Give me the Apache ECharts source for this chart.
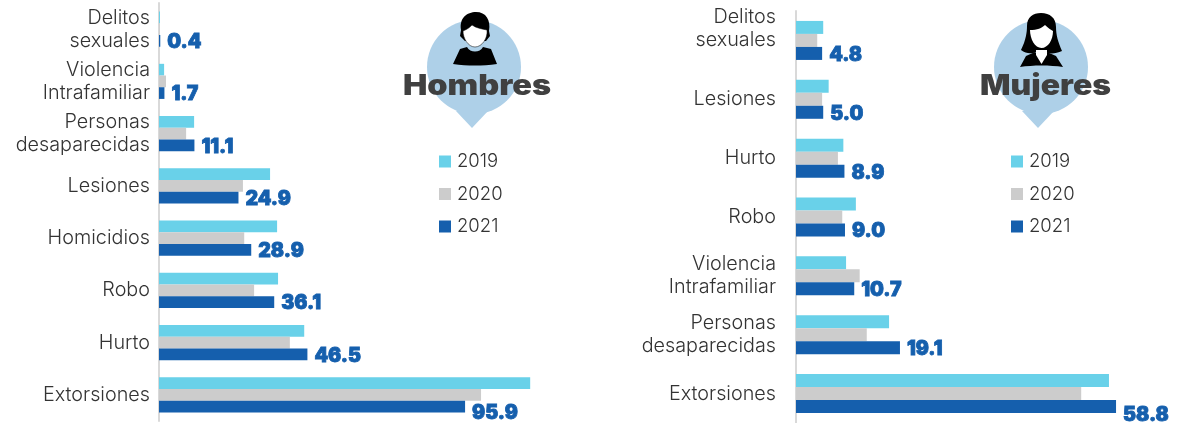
<!DOCTYPE html>
<html><head><meta charset="utf-8">
<script src="https://cdn.jsdelivr.net/npm/echarts@6/dist/echarts.min.js"></script>
<style>html,body{margin:0;padding:0;background:#fff}#c{width:1183px;height:423px}</style>
</head><body><div id="c"></div>
<script>
const years = ['2019','2020','2021'];
const catsH = ['Delitos\nsexuales','Violencia\nIntrafamiliar','Personas\ndesaparecidas','Lesiones','Homicidios','Robo','Hurto','Extorsiones'];
const h2019 = [0.3,1.6,11.0,34.8,37.0,37.3,45.5,116.3];
const h2020 = [0.2,2.2,8.5,26.3,26.7,29.8,41.0,100.9];
const h2021 = [0.4,1.7,11.1,24.9,28.9,36.1,46.5,95.9];
const catsM = ['Delitos\nsexuales','Lesiones','Hurto','Robo','Violencia\nIntrafamiliar','Personas\ndesaparecidas','Extorsiones'];
const m2019 = [5.0,6.0,8.7,11.0,9.2,17.1,57.5];
const m2020 = [3.9,4.8,7.7,8.5,11.7,13.0,52.4];
const m2021 = [4.8,5.0,8.9,9.0,10.7,19.1,58.8];
const colors = ['#69D1E9','#CCCCCC','#155FAD'];
const FONT = 'Inter, "Open Sans", sans-serif';

function lastOffset(vals, dx, dy){
  return vals.map((v,i)=> i===vals.length-1 ? {value:v,label:{offset:[dx,dy]}} : v);
}
function bars(vals, axis, bw, idx, ldx, ldy){
  const s = {name:years[idx],type:'bar',xAxisIndex:axis,yAxisIndex:axis,barWidth:bw,barGap:0,
    itemStyle:{color:colors[idx]},emphasis:{disabled:true},animation:false,
    data: idx===2 ? lastOffset(vals,ldx,ldy) : vals};
  if(idx===2) s.label={show:true,position:'right',distance:7,offset:[0,1.5],
    formatter:p=>Number(p.value).toFixed(1),
    fontFamily:FONT,fontWeight:900,fontSize:19.5,color:'#155FAD',
    textBorderColor:'#155FAD',textBorderWidth:0.8};
  return s;
}
function xA(gi,max){return {gridIndex:gi,type:'value',min:0,max:max,show:false};}
function yA(gi,cats,m,fmt){return {gridIndex:gi,type:'category',inverse:true,data:cats,
  axisLine:{show:true,onZero:false,lineStyle:{color:'#D9D9D9',width:2}},axisTick:{show:false},
  axisLabel:{margin:m,fontFamily:FONT,fontWeight:300,fontSize:19.8,lineHeight:23,color:'#333333',align:'right',formatter:fmt}};}
function legend(left){return {left:left,top:147,orient:'vertical',data:years,icon:'rect',itemWidth:12,itemHeight:12,
  itemGap:13.5,selectedMode:false,textStyle:{fontFamily:FONT,fontWeight:300,fontSize:18.5,color:'#333333',padding:[0,0,0,1]}};}
const BUB='#AED0E8';
function bubble(cx,cy,r,tx,ty){return [
  {type:'circle',shape:{cx:cx,cy:cy,r:r},style:{fill:BUB},z:1},
  {type:'polygon',shape:{points:[[tx-16,ty-17],[tx+16,ty-17],[tx,ty]]},style:{fill:BUB},z:1}];}
let shapeN=0;
function part(d,style,z){
  const name='iconPart'+(shapeN++);
  echarts.graphic.registerShape(name,echarts.graphic.extendPath(d,{}));
  return {type:name,style:style,z:z};
}
const man=[
 part('M453 64 L460 49 L467 47 C470 53 480 53 483 47 L491 49 L497 64 C482 66 468 66 453 64 Z',{fill:'#000'},2),
 part('M461 30 C459 18 467 12 476 12 C486 12 491 20 489 31 L490 36 L486 41 L465 41 L460 36 Z',{fill:'#000'},2),
 part('M463 31 C468 29 470 27 472 25 C476 28 482 29 487 30 C488 38 482 47 475 47 C468 47 463 38 463 31 Z',{fill:'#fff',stroke:'#000',lineWidth:0.5},3)
];
const woman=[
 part('M1020 67 L1026 56 L1035 52 L1041 58 L1047 52 L1056 56 L1063 67 C1050 65 1033 65 1020 67 Z',{fill:'#000'},2),
 part('M1021 50 C1026 40 1027 32 1027 26 C1027 17 1033 13 1041 13 C1050 13 1056 18 1056 27 C1056 35 1058 42 1062 51 C1056 54 1048 54 1046 52 L1036 52 C1032 54 1026 54 1021 50 Z',{fill:'#000'},2),
 part('M1030 30 C1037 30 1042 28 1045 25 C1048 28 1051 30 1053 31 C1053 40 1048 48 1041.5 48 C1035 48 1030 39 1030 30 Z',{fill:'#fff'},3),
 part('M1036 50 L1047 50 L1047 55 L1041.5 64 L1036 55 Z',{fill:'#fff'},3)
];
function title(txt,x,y,sx){return {type:'text',x:x,y:y,scaleX:sx,z:4,style:{text:txt,fontFamily:FONT,fontWeight:900,fontSize:28,fill:'#404040',align:'center',verticalAlign:'middle'}};}

const chart=echarts.init(document.getElementById('c'),null,{renderer:'canvas'});
chart.setOption({
  backgroundColor:'#fff',animation:false,tooltip:{show:false},
  grid:[{left:159,top:3,width:383,height:418},{left:796,top:11,width:381,height:414}],
  xAxis:[xA(0,120),xA(1,70)],
  yAxis:[yA(0,catsH,9),yA(1,catsM,20,v=>v===catsM[0]?v+'\n ':v)],
  legend:[legend(434),legend(1006)],
  series:[
    bars(h2019,0,11.7,0),bars(h2020,0,11.7,1),bars(h2021,0,11.7,2,0,7),
    bars(m2019,1,13,0),bars(m2020,1,13,1),bars(m2021,1,13,2,0,9)
  ],
  graphic:{elements:[
    ...bubble(474,67,47,472,128),...bubble(1041,67,47,1038,128),
    ...man,...woman,title('Hombres',477,87,1.16),title('Mujeres',1045.5,87,1.14)
  ]}
});
</script></body></html>
